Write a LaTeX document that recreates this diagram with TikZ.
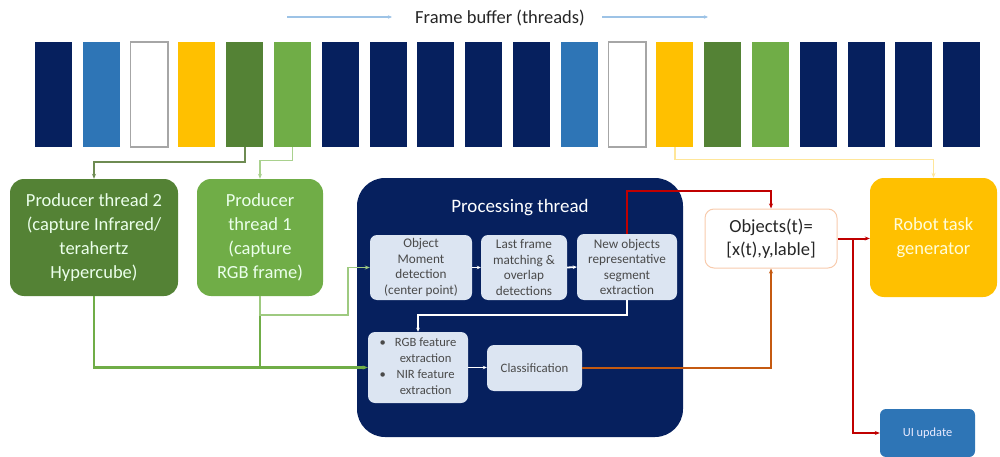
\documentclass[tikz,border=0pt]{standalone}
\usepackage{fontspec}
\setmainfont{Carlito}
\usetikzlibrary{arrows.meta}
\definecolor{navy}{HTML}{06205E}
\definecolor{fbblue}{HTML}{2E75B6}
\definecolor{fbyellow}{HTML}{FFC000}
\definecolor{dgreen}{HTML}{548235}
\definecolor{lgreen}{HTML}{70AD47}
\definecolor{pale}{HTML}{DCE5F2}
\definecolor{inktext}{HTML}{4A4A4A}
\definecolor{darkred}{HTML}{C00000}
\definecolor{rust}{HTML}{C55A11}
\definecolor{arrblue}{HTML}{9DC3E6}
\definecolor{paleyellow}{HTML}{FFE699}
\definecolor{palegreen}{HTML}{A9D18E}
\definecolor{greygreen}{HTML}{6E8B52}
\definecolor{pinkline}{HTML}{F8CBAD}
\begin{document}
\begin{tikzpicture}[x=1pt,y=-1pt,
  bar/.style={rectangle, minimum width=37pt, minimum height=105pt, inner sep=0pt},
  bigbox/.style={rectangle, rounded corners=14pt, inner sep=2pt, align=center,
    font=\fontsize{18.5}{24}\selectfont},
  innerbox/.style={rectangle, rounded corners=7pt, fill=pale, inner sep=1pt, align=center,
    text=inktext, font=\fontsize{13.2}{15.6}\selectfont},
  tip/.style={-{Stealth[length=5pt,width=4pt]}},
  smalltip/.style={-{Stealth[length=4pt,width=3.5pt]}}]
\useasboundingbox (0,0) rectangle (1000,457);

% frame buffer title and arrows
\node[font=\fontsize{18.5}{22}\selectfont, text=black!85] (title) at (500,18) {Frame buffer (threads)};
\coordinate (la1) at (287,17); \coordinate (la2) at (392,17);
\coordinate (ra1) at (602,17); \coordinate (ra2) at (708,17);
\draw[arrblue, line width=1.2pt, smalltip] (la1) -- (la2);
\draw[arrblue, line width=1.2pt, smalltip] (ra1) -- (ra2);

% bars
\foreach \i/\c in {1/navy,2/fbblue,3/white,4/fbyellow,5/dgreen,6/lgreen,7/navy,8/navy,9/navy,10/navy,
                   11/navy,12/fbblue,13/white,14/fbyellow,15/dgreen,16/lgreen,17/navy,18/navy,19/navy,20/navy}{
  \node[bar, fill=\c] (b\i) at ({53.5+47.8*(\i-1)},94.5) {};
}
\draw[gray!70, line width=1.5pt] (b3.south west) rectangle (b3.north east);
\draw[gray!70, line width=1.5pt] (b13.south west) rectangle (b13.north east);

% producer threads
\node[bigbox, fill=dgreen, text=green!8!white, minimum width=168pt, minimum height=117pt] (pt2) at (94,237.5)
  {Producer thread 2\\(capture Infrared/\\terahertz\\Hypercube)};
\node[bigbox, fill=lgreen, text=green!8!white, minimum width=126pt, minimum height=117pt] (pt1) at (260,237.5)
  {Producer\\thread 1\\(capture\\RGB frame)};

\draw[greygreen, line width=1.6pt, tip] (b5.south) -- ++(0,15) -| (pt2.north);
\draw[palegreen, line width=1.3pt, tip] (b6.south) -- ++(0,13) -| (pt1.north);

% processing thread
\node[rectangle, rounded corners=28pt, fill=navy, minimum width=326pt, minimum height=259pt] (proc) at (520,307.5) {};
\node[text=white, font=\fontsize{19}{22}\selectfont] (ptitle) at (520,208) {Processing thread};

\node[innerbox, minimum width=102pt, minimum height=65pt] (om) at (421,267.5)
  {Object\\Moment\\detection\\(center point)};
\node[innerbox, minimum width=86pt, minimum height=65pt] (lf) at (524,267.5)
  {Last frame\\matching \&\\overlap\\detections};
\node[innerbox, minimum width=100pt, minimum height=66pt] (no) at (627,267)
  {New objects\\representative\\segment\\extraction};
\node[innerbox, minimum width=100pt, minimum height=71pt, font=\fontsize{12.6}{16}\selectfont] (rgb) at (418,367.5)
  {\begin{tabular}{@{}l@{\hspace{9pt}}c@{}}\textbullet & RGB feature\\ & extraction\\ \textbullet & NIR feature\\ & extraction\end{tabular}};
\node[innerbox, minimum width=95pt, minimum height=46pt, font=\fontsize{12.8}{15}\selectfont] (cls) at (534.5,368)
  {Classification};

\draw[white, line width=1.8pt, smalltip] (om.east) -- (lf.west);
\draw[white, line width=1.8pt, smalltip] (lf.east) -- (no.west);
\draw[white, line width=1.8pt, smalltip] (no.south) -- ++(0,15) -| (rgb.north);
\draw[white, line width=1.8pt, smalltip] (rgb.east) -- (rgb.east -| cls.west);

% producer to processing connectors
\coordinate (j1) at (260,315);
\coordinate (j2) at (348,315);
\draw[lgreen, line width=2.2pt, tip] (pt2.south) |- (rgb.west);
\draw[lgreen, line width=1.4pt] (pt1.south) -- (pt1.south |- rgb.west);
\draw[palegreen!80!lgreen, line width=1.4pt, tip] (pt1.south) -- (j1) -- (j2) |- (om.west);

% objects
\node[bigbox, rounded corners=9pt, fill=white, draw=pinkline, line width=1pt, text=black!85,
  font=\fontsize{18.5}{23}\selectfont, minimum width=132pt, minimum height=59pt] (obj) at (771,238.5)
  {Objects(t)=\\{}[x(t),y,lable]};
\draw[darkred, line width=2pt, tip] (no.north) -- ++(0,-43) -| (obj.north);
\draw[rust, line width=2pt, tip] (cls.east) -| (obj.south);

% robot and UI
\node[bigbox, fill=fbyellow, text=yellow!15!white, minimum width=127pt, minimum height=119pt] (rtg) at (933.5,237.5)
  {Robot task\\generator};
\node[rectangle, rounded corners=6pt, fill=fbblue, text=blue!8!white, font=\fontsize{12.4}{14}\selectfont,
  minimum width=95pt, minimum height=48pt] (ui) at (927.5,433) {UI update};
\draw[paleyellow, line width=1.3pt, tip] (b14.south) -- ++(0,12) -| (rtg.north);

\coordinate (br) at (853,238.5);
\draw[darkred, line width=2pt, tip] (obj.east) -- (obj.east -| rtg.west);
\draw[darkred, line width=2pt, tip] (br) |- (ui.west);
\end{tikzpicture}
\end{document}
